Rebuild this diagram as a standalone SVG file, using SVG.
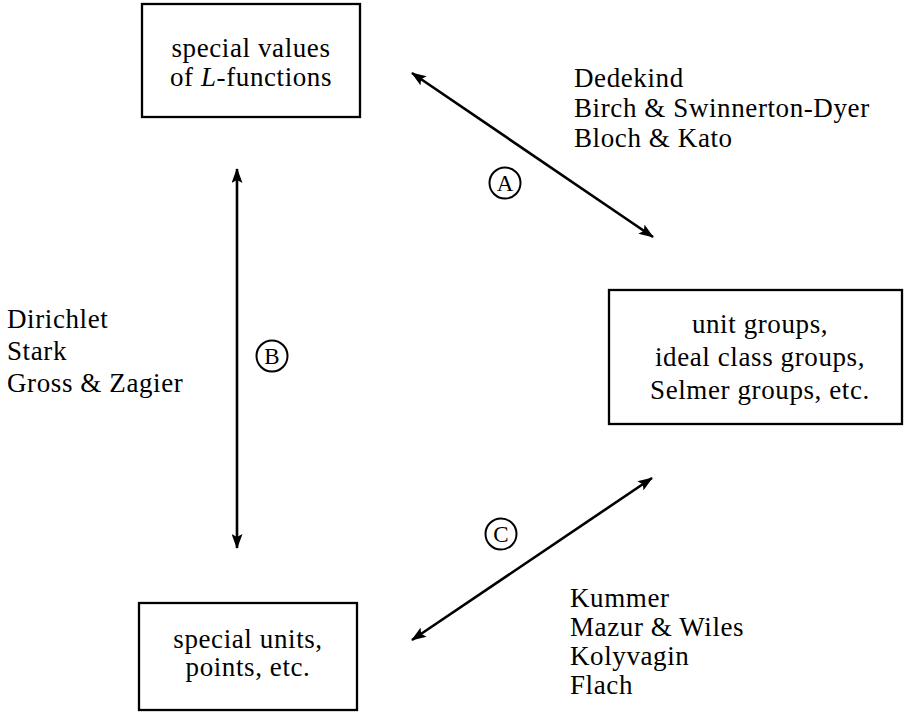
<svg xmlns="http://www.w3.org/2000/svg" width="904" height="715" viewBox="0 0 904 715">
<style>
text{font-family:"Liberation Serif","Times New Roman",serif;font-size:27px;fill:#000;letter-spacing:0.6px}
.c{text-anchor:middle}
.box{fill:#fff;stroke:#000;stroke-width:2.3}
.line{stroke:#000;stroke-width:2.6;fill:none;marker-start:url(#ah);marker-end:url(#ah)}
.circ{fill:none;stroke:#000;stroke-width:2}
.lab{font-size:23px;letter-spacing:0}
</style>
<defs>
<marker id="ah" viewBox="0 0 15 11" refX="14" refY="5.5" markerWidth="15" markerHeight="11" markerUnits="userSpaceOnUse" orient="auto-start-reverse">
<path d="M0,0 L15,5.5 L0,11 L3,5.5 Z" fill="#000"/>
</marker>
</defs>
<g id="connectors">
<line class="line" x1="412" y1="73" x2="653" y2="237"/>
<line class="line" x1="237" y1="169" x2="237" y2="548"/>
<line class="line" x1="412" y1="640" x2="652" y2="478"/>
</g>
<g id="node-lfunctions">
<rect class="box" x="142" y="4" width="218" height="113"/>
<text class="c" x="251" y="57">special values</text>
<text class="c" x="251" y="86">of <tspan font-style="italic">L</tspan>-functions</text>
</g>
<g id="node-groups">
<rect class="box" x="609" y="290" width="293" height="134"/>
<text class="c" x="760" y="333">unit groups,</text>
<text class="c" x="760" y="366">ideal class groups,</text>
<text class="c" x="760" y="399">Selmer groups, etc.</text>
</g>
<g id="node-units">
<rect class="box" x="139" y="603" width="218" height="107"/>
<text class="c" x="248" y="648">special units,</text>
<text class="c" x="248" y="676">points, etc.</text>
</g>
<g id="label-A">
<circle class="circ" cx="505" cy="183" r="15.5"/>
<text class="c lab" x="505" y="191">A</text>
<text x="574" y="87">Dedekind</text>
<text x="574" y="117">Birch &amp; Swinnerton-Dyer</text>
<text x="574" y="147">Bloch &amp; Kato</text>
</g>
<g id="label-B">
<circle class="circ" cx="272" cy="356" r="15.5"/>
<text class="c lab" x="272" y="364">B</text>
<text x="7" y="328">Dirichlet</text>
<text x="7" y="360">Stark</text>
<text x="7" y="392">Gross &amp; Zagier</text>
</g>
<g id="label-C">
<circle class="circ" cx="501" cy="534" r="15.5"/>
<text class="c lab" x="501" y="542">C</text>
<text x="570" y="607">Kummer</text>
<text x="570" y="636">Mazur &amp; Wiles</text>
<text x="570" y="665">Kolyvagin</text>
<text x="570" y="694">Flach</text>
</g>
</svg>
